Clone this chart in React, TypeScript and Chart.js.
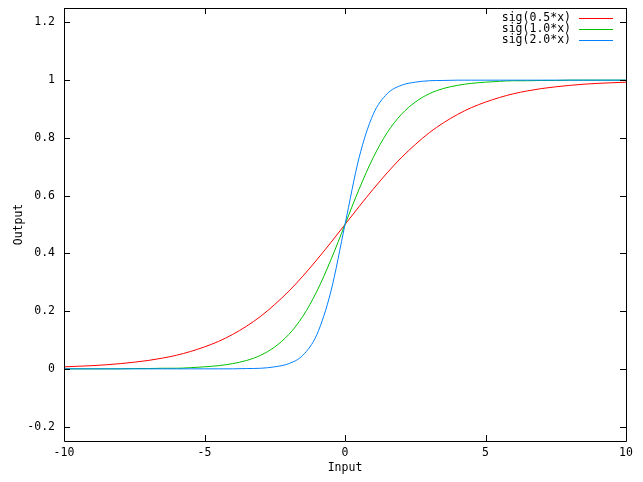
import React, { useEffect, useRef } from "react";
import { Chart, registerables } from "chart.js";

Chart.register(...registerables);

const xValues = [
  -10, -9.5, -9, -8.5, -8, -7.5, -7, -6.5, -6, -5.5, -5, -4.5, -4, -3.5, -3, -2.5, -2, -1.5, -1, -0.5,
  0, 0.5, 1, 1.5, 2, 2.5, 3, 3.5, 4, 4.5, 5, 5.5, 6, 6.5, 7, 7.5, 8, 8.5, 9, 9.5, 10,
];

const sigHalf = [
  0.007, 0.009, 0.011, 0.014, 0.018, 0.023, 0.029, 0.037, 0.047, 0.06, 0.076, 0.095, 0.119, 0.148,
  0.182, 0.223, 0.269, 0.321, 0.378, 0.438, 0.5, 0.562, 0.622, 0.679, 0.731, 0.777, 0.818, 0.852,
  0.881, 0.905, 0.924, 0.94, 0.953, 0.963, 0.971, 0.977, 0.982, 0.986, 0.989, 0.991, 0.993,
];

const sigOne = [
  0.0, 0.0, 0.0, 0.0, 0.0, 0.001, 0.001, 0.002, 0.002, 0.004, 0.007, 0.011, 0.018, 0.029, 0.047,
  0.076, 0.119, 0.182, 0.269, 0.378, 0.5, 0.622, 0.731, 0.818, 0.881, 0.924, 0.953, 0.971, 0.982,
  0.989, 0.993, 0.996, 0.998, 0.998, 0.999, 0.999, 1.0, 1.0, 1.0, 1.0, 1.0,
];

const sigTwo = [
  0.0, 0.0, 0.0, 0.0, 0.0, 0.0, 0.0, 0.0, 0.0, 0.0, 0.0, 0.0, 0.0, 0.001, 0.002, 0.007, 0.018,
  0.047, 0.119, 0.269, 0.5, 0.731, 0.881, 0.953, 0.982, 0.993, 0.998, 0.999, 1.0, 1.0, 1.0, 1.0,
  1.0, 1.0, 1.0, 1.0, 1.0, 1.0, 1.0, 1.0, 1.0,
];

const seriesLabels = ["sig(0.5*x)", "sig(1.0*x)", "sig(2.0*x)"];
const seriesColors = ["#ff0000", "#00c000", "#0080ff"];
const xTicks = [-10, -5, 0, 5, 10];
const yTicks = [-0.2, 0, 0.2, 0.4, 0.6, 0.8, 1, 1.2];
const xTitle = "Input";
const yTitle = "Output";

const FONT = "'DejaVu Sans Mono', 'Liberation Mono', monospace";
const FSIZE = 11.5;

const framePlugin = {
  id: "gnuframe",
  afterDatasetsDraw(chart: any) {
    const { ctx, chartArea } = chart;
    const { left, right, top, bottom } = chartArea;
    const xs = chart.scales.x;
    const ys = chart.scales.y;
    ctx.save();
    ctx.strokeStyle = "#000";
    ctx.lineWidth = 1;
    ctx.beginPath();
    ctx.rect(Math.round(left) + 0.5, Math.round(top) + 0.5, Math.round(right - left), Math.round(bottom - top));
    ctx.stroke();
    const tl = 6;
    ctx.beginPath();
    for (const v of xTicks) {
      const px = Math.round(xs.getPixelForValue(v)) + 0.5;
      ctx.moveTo(px, bottom);
      ctx.lineTo(px, bottom - tl);
      ctx.moveTo(px, top);
      ctx.lineTo(px, top + tl);
    }
    for (const v of yTicks) {
      const py = Math.round(ys.getPixelForValue(v)) + 0.5;
      ctx.moveTo(left, py);
      ctx.lineTo(left + tl, py);
      ctx.moveTo(right, py);
      ctx.lineTo(right - tl, py);
    }
    ctx.stroke();

    // legend
    ctx.font = `${FSIZE}px ${FONT}`;
    ctx.textAlign = "right";
    ctx.textBaseline = "middle";
    seriesLabels.forEach((lab, i) => {
      const y = 18 + i * 11;
      ctx.fillStyle = "#000";
      ctx.fillText(lab, 571, y);
      ctx.strokeStyle = seriesColors[i];
      ctx.beginPath();
      ctx.moveTo(579, Math.round(y) + 0.5);
      ctx.lineTo(613, Math.round(y) + 0.5);
      ctx.stroke();
    });
    ctx.restore();
  },
};

export default function App() {
  const canvasRef = useRef<HTMLCanvasElement | null>(null);

  useEffect(() => {
    document.body.style.margin = "0";
    const canvas = canvasRef.current;
    if (!canvas) return;
    Chart.defaults.color = "#000";
    const datasets = [sigHalf, sigOne, sigTwo].map((vals, i) => ({
      label: seriesLabels[i],
      data: vals.map((y, j) => ({ x: xValues[j], y })),
      borderColor: seriesColors[i],
      backgroundColor: seriesColors[i],
      borderWidth: 1,
      pointRadius: 0,
      fill: false,
      cubicInterpolationMode: "monotone" as const,
      order: 2 - i,
    }));
    const chart = new Chart(canvas, {
      type: "line",
      data: { datasets },
      plugins: [framePlugin],
      options: {
        animation: false,
        responsive: true,
        maintainAspectRatio: false,
        layout: { padding: { top: 8, right: 17, left: 0, bottom: 0 } },
        plugins: { legend: { display: false }, tooltip: { enabled: false } },
        scales: {
          x: {
            type: "linear",
            min: -10,
            max: 10,
            grid: { display: false, drawTicks: false },
            border: { display: false },
            afterFit: (s: any) => {
              s.height = 41;
              s.paddingLeft = 0;
              s.paddingRight = 0;
            },
            afterBuildTicks: (s: any) => {
              s.ticks = xTicks.map((v) => ({ value: v }));
            },
            ticks: {
              padding: 5,
              maxRotation: 0,
              font: { family: FONT, size: FSIZE },
              callback: (v: any) => String(v),
            },
            title: {
              display: true,
              text: xTitle,
              font: { family: FONT, size: FSIZE },
              padding: { top: 0, bottom: 7 },
            },
          },
          y: {
            type: "linear",
            min: -0.25,
            max: 1.25,
            grid: { display: false, drawTicks: false },
            border: { display: false },
            afterFit: (s: any) => {
              s.width = 64;
              s.paddingTop = 0;
              s.paddingBottom = 0;
            },
            afterBuildTicks: (s: any) => {
              s.ticks = yTicks.map((v) => ({ value: v }));
            },
            ticks: {
              padding: 9,
              font: { family: FONT, size: FSIZE },
              callback: (v: any) => String(Number(Number(v).toFixed(1))),
            },
            title: {
              display: true,
              text: yTitle,
              font: { family: FONT, size: FSIZE },
              padding: { top: 12, bottom: 0 },
            },
          },
        },
      },
    });
    return () => chart.destroy();
  }, []);

  return (
    <div style={{ width: 643, height: 482, position: "relative", background: "#fff" }}>
      <canvas ref={canvasRef} />
    </div>
  );
}
